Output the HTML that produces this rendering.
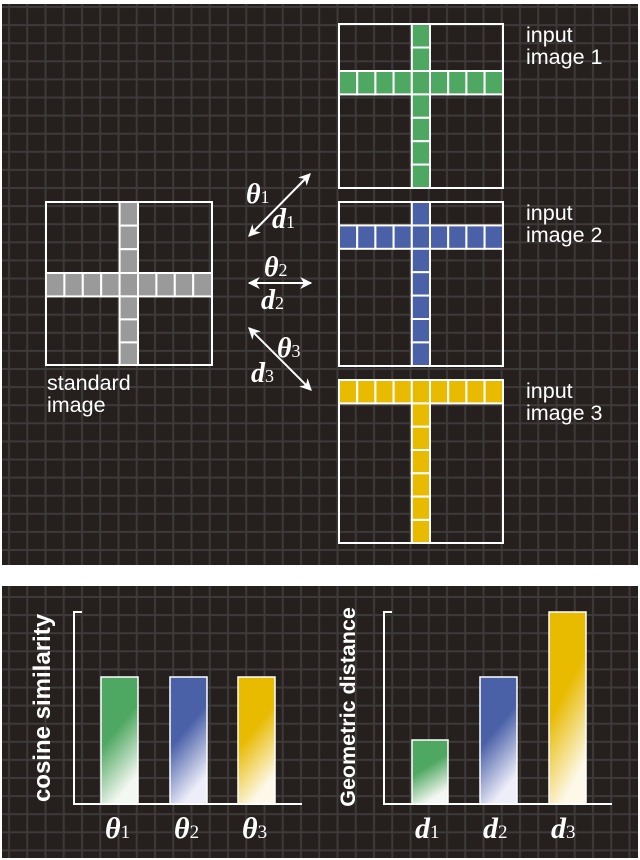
<!DOCTYPE html>
<html><head><meta charset="utf-8"><style>
html,body{margin:0;padding:0;background:#fff;}
svg{display:block;}
.s{font-family:"Liberation Sans",sans-serif;fill:#fff;}
.m{font-family:"Liberation Serif",serif;fill:#fff;font-style:italic;font-weight:bold;}
.sub{font-family:"Liberation Serif",serif;font-style:normal;font-weight:normal;}
</style></head><body>
<svg width="640" height="860" viewBox="0 0 640 860" xmlns="http://www.w3.org/2000/svg">
<defs>
<pattern id="g" x="0" y="6" width="18.25" height="18.1" patternUnits="userSpaceOnUse">
<rect width="18.25" height="18.1" fill="#251f1e"/>
<rect x="8" y="0" width="2" height="18.1" fill="#3d3a39"/>
<rect x="0" y="0" width="18.25" height="2" fill="#3d3a39"/>
</pattern>
<pattern id="g2" x="0" y="596" width="18.25" height="18.1" patternUnits="userSpaceOnUse">
<rect width="18.25" height="18.1" fill="#251f1e"/>
<rect x="8" y="0" width="2" height="18.1" fill="#3d3a39"/>
<rect x="0" y="0" width="18.25" height="2" fill="#3d3a39"/>
</pattern>
<linearGradient id="gg" x1="0" y1="0" x2="0.35" y2="1"><stop offset="0.5" stop-color="#4fa862"/><stop offset="1" stop-color="#f4f8f2"/></linearGradient>
<linearGradient id="gb" x1="0" y1="0" x2="0.35" y2="1"><stop offset="0.5" stop-color="#4a61a8"/><stop offset="1" stop-color="#eeeefa"/></linearGradient>
<linearGradient id="gy" x1="0" y1="0" x2="0.35" y2="1"><stop offset="0.5" stop-color="#e8ba00"/><stop offset="1" stop-color="#fdf8e8"/></linearGradient>
<marker id="ah" viewBox="0 0 10 10" refX="9" refY="5" markerWidth="6" markerHeight="6" orient="auto-start-reverse"><path d="M0,0 L10,5 L0,10 L3,5 z" fill="#fff"/></marker>
</defs>
<rect x="2" y="4" width="636" height="561" fill="url(#g)"/>
<rect x="2" y="586" width="636" height="272" fill="url(#g2)"/>

<g stroke="#fff" stroke-width="2">
<rect x="46" y="202" width="166" height="163" fill="none"/>
<g fill="#9a9a9a">
<rect x="46" y="273" width="18.4" height="23.4"/><rect x="64.4" y="273" width="18.4" height="23.4"/><rect x="82.8" y="273" width="18.4" height="23.4"/><rect x="101.2" y="273" width="18.4" height="23.4"/><rect x="119.6" y="273" width="18.4" height="23.4"/><rect x="138" y="273" width="18.4" height="23.4"/><rect x="156.4" y="273" width="18.4" height="23.4"/><rect x="174.8" y="273" width="18.4" height="23.4"/><rect x="193.2" y="273" width="18.8" height="23.4"/>
<rect x="119.6" y="202" width="18.4" height="23.6"/><rect x="119.6" y="225.6" width="18.4" height="23.6"/><rect x="119.6" y="249.2" width="18.4" height="23.8"/>
<rect x="119.6" y="296.4" width="18.4" height="23"/><rect x="119.6" y="319.4" width="18.4" height="23"/><rect x="119.6" y="342.4" width="18.4" height="22.6"/>
</g>
<rect x="339" y="24" width="164" height="164" fill="none"/>
<g fill="#4fa862">
<rect x="339" y="71" width="18.2" height="23.4"/><rect x="357.2" y="71" width="18.2" height="23.4"/><rect x="375.4" y="71" width="18.2" height="23.4"/><rect x="393.6" y="71" width="18.2" height="23.4"/><rect x="411.8" y="71" width="18.2" height="23.4"/><rect x="430" y="71" width="18.2" height="23.4"/><rect x="448.2" y="71" width="18.2" height="23.4"/><rect x="466.4" y="71" width="18.2" height="23.4"/><rect x="484.6" y="71" width="18.4" height="23.4"/>
<rect x="411.8" y="24" width="18.2" height="23.5"/><rect x="411.8" y="47.5" width="18.2" height="23.5"/>
<rect x="411.8" y="94.4" width="18.2" height="23.4"/><rect x="411.8" y="117.8" width="18.2" height="23.4"/><rect x="411.8" y="141.2" width="18.2" height="23.4"/><rect x="411.8" y="164.6" width="18.2" height="23.4"/>
</g>
<rect x="339" y="202" width="164" height="164" fill="none"/>
<g fill="#4a61a8">
<rect x="339" y="225.4" width="18.2" height="23.4"/><rect x="357.2" y="225.4" width="18.2" height="23.4"/><rect x="375.4" y="225.4" width="18.2" height="23.4"/><rect x="393.6" y="225.4" width="18.2" height="23.4"/><rect x="411.8" y="225.4" width="18.2" height="23.4"/><rect x="430" y="225.4" width="18.2" height="23.4"/><rect x="448.2" y="225.4" width="18.2" height="23.4"/><rect x="466.4" y="225.4" width="18.2" height="23.4"/><rect x="484.6" y="225.4" width="18.4" height="23.4"/>
<rect x="411.8" y="202" width="18.2" height="23.4"/>
<rect x="411.8" y="248.8" width="18.2" height="23.4"/><rect x="411.8" y="272.2" width="18.2" height="23.4"/><rect x="411.8" y="295.6" width="18.2" height="23.4"/><rect x="411.8" y="319" width="18.2" height="23.4"/><rect x="411.8" y="342.4" width="18.2" height="23.6"/>
</g>
<rect x="339" y="380" width="164" height="163" fill="none"/>
<g fill="#e8ba00">
<rect x="339" y="380" width="18.2" height="23.4"/><rect x="357.2" y="380" width="18.2" height="23.4"/><rect x="375.4" y="380" width="18.2" height="23.4"/><rect x="393.6" y="380" width="18.2" height="23.4"/><rect x="411.8" y="380" width="18.2" height="23.4"/><rect x="430" y="380" width="18.2" height="23.4"/><rect x="448.2" y="380" width="18.2" height="23.4"/><rect x="466.4" y="380" width="18.2" height="23.4"/><rect x="484.6" y="380" width="18.4" height="23.4"/>
<rect x="411.8" y="403.4" width="18.2" height="23.3"/><rect x="411.8" y="426.7" width="18.2" height="23.3"/><rect x="411.8" y="450" width="18.2" height="23.3"/><rect x="411.8" y="473.3" width="18.2" height="23.3"/><rect x="411.8" y="496.6" width="18.2" height="23.3"/><rect x="411.8" y="519.9" width="18.2" height="23.1"/>
</g>
</g>

<g class="s" font-size="21.5">
<text x="526" y="42">input</text><text x="526" y="64">image 1</text>
<text x="526" y="220">input</text><text x="526" y="242">image 2</text>
<text x="526" y="398">input</text><text x="526" y="420">image 3</text>
<text x="47" y="390">standard</text><text x="47" y="412">image</text>
</g>

<g stroke="#fff" stroke-width="2" fill="none">
<line x1="249" y1="236" x2="310" y2="174" marker-start="url(#ah)" marker-end="url(#ah)"/>
<line x1="249" y1="283" x2="311" y2="283" marker-start="url(#ah)" marker-end="url(#ah)"/>
<line x1="249" y1="328" x2="311" y2="390" marker-start="url(#ah)" marker-end="url(#ah)"/>
</g>
<g class="m" font-size="28">
<text x="246" y="203">θ<tspan class="sub" font-size="18">1</tspan></text>
<text x="272" y="228">d<tspan class="sub" font-size="18">1</tspan></text>
<text x="264" y="276">θ<tspan class="sub" font-size="18">2</tspan></text>
<text x="261" y="309">d<tspan class="sub" font-size="18">2</tspan></text>
<text x="277" y="357">θ<tspan class="sub" font-size="18">3</tspan></text>
<text x="251" y="382">d<tspan class="sub" font-size="18">3</tspan></text>
</g>

<g stroke="#fff" stroke-width="2" fill="none">
<polyline points="82,612 74,612 74,804 302,804"/>
<polyline points="392,612 384,612 384,804 612,804"/>
</g>
<g stroke="#fff" stroke-width="1.5">
<rect x="101" y="677" width="37" height="127" fill="url(#gg)"/>
<rect x="170" y="677" width="37" height="127" fill="url(#gb)"/>
<rect x="238" y="677" width="37" height="127" fill="url(#gy)"/>
<rect x="412" y="740" width="36" height="64" fill="url(#gg)"/>
<rect x="480" y="677" width="37" height="127" fill="url(#gb)"/>
<rect x="549" y="612" width="37" height="192" fill="url(#gy)"/>
</g>
<text class="s" font-size="24" font-weight="bold" transform="translate(50,708) rotate(-90)" text-anchor="middle">cosine similarity</text>
<text class="s" font-size="21.5" font-weight="bold" transform="translate(355,707) rotate(-90)" text-anchor="middle">Geometric distance</text>
<g class="m" font-size="30">
<text x="105" y="838">θ<tspan class="sub" font-size="19">1</tspan></text>
<text x="174" y="838">θ<tspan class="sub" font-size="19">2</tspan></text>
<text x="242" y="838">θ<tspan class="sub" font-size="19">3</tspan></text>
<text x="415" y="838">d<tspan class="sub" font-size="19">1</tspan></text>
<text x="483" y="838">d<tspan class="sub" font-size="19">2</tspan></text>
<text x="551" y="838">d<tspan class="sub" font-size="19">3</tspan></text>
</g>
</svg>
</body></html>
